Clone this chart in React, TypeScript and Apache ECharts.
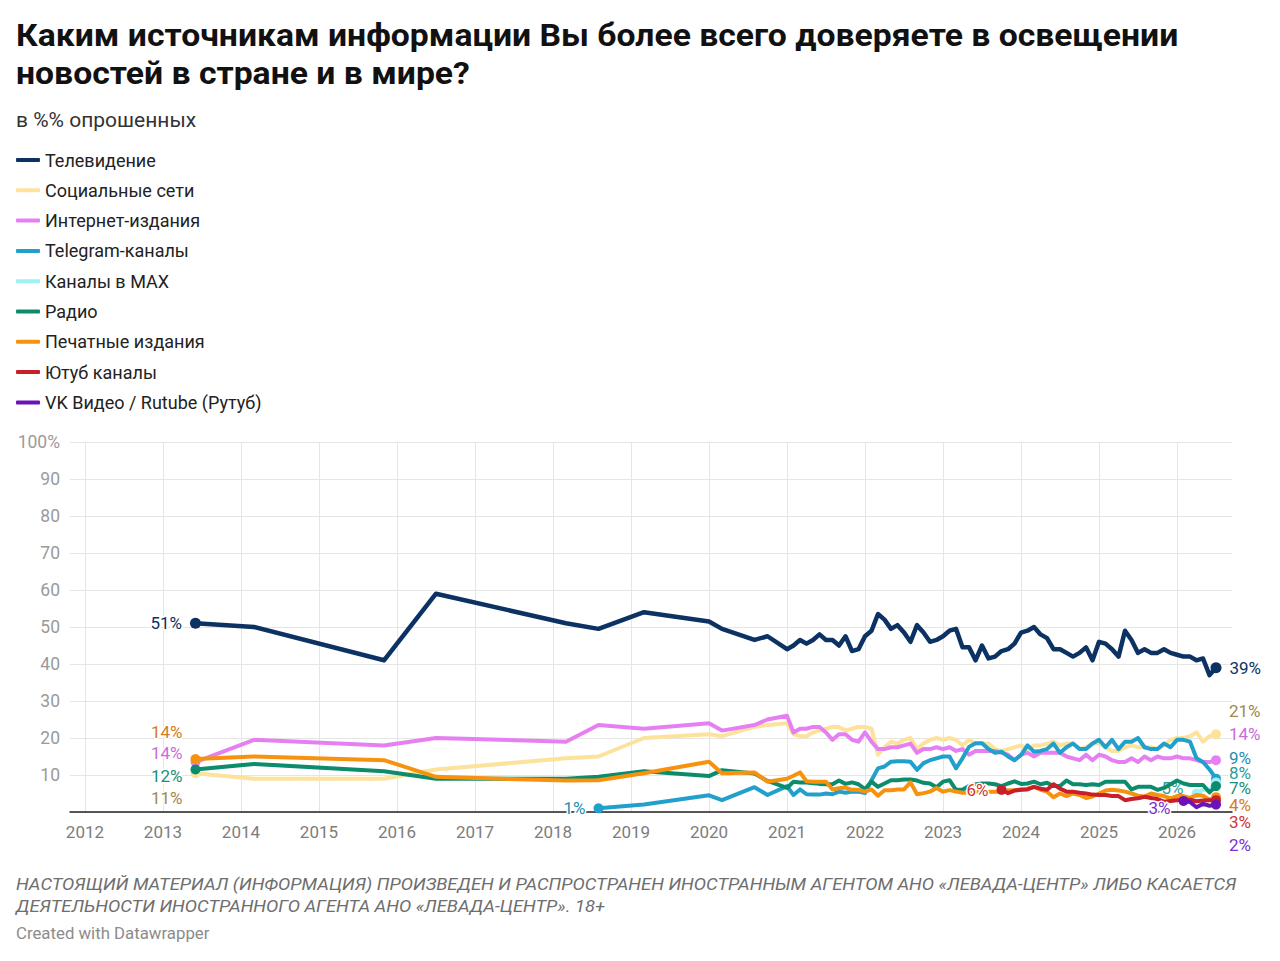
import React, { useEffect, useRef } from "react";
import * as echarts from "echarts";

const FONT = "Roboto, 'Noto Sans', sans-serif";
const _ = null;

// survey dates (year-month)
const surveyDates = [
  "2013-06", "2014-03", "2015-11", "2016-07", "2018-03", "2018-08", "2019-03", "2020-01", "2020-03", "2020-08", "2020-10",
  "2021-01", "2021-02", "2021-03", "2021-04", "2021-05", "2021-06", "2021-07", "2021-08", "2021-09", "2021-10", "2021-11", "2021-12",
  "2022-01", "2022-02", "2022-03", "2022-04", "2022-05", "2022-06", "2022-07", "2022-08", "2022-09", "2022-10", "2022-11", "2022-12",
  "2023-01", "2023-02", "2023-03", "2023-04", "2023-05", "2023-06", "2023-07", "2023-08", "2023-09", "2023-10", "2023-11", "2023-12",
  "2024-01", "2024-02", "2024-03", "2024-04", "2024-05", "2024-06", "2024-07", "2024-08", "2024-09", "2024-10", "2024-11", "2024-12",
  "2025-01", "2025-02", "2025-03", "2025-04", "2025-05", "2025-06", "2025-07", "2025-08", "2025-09", "2025-10", "2025-11", "2025-12",
  "2026-01", "2026-02", "2026-03", "2026-04", "2026-05", "2026-06", "2026-07",
];

const yearTicks = [2012, 2013, 2014, 2015, 2016, 2017, 2018, 2019, 2020, 2021, 2022, 2023, 2024, 2025, 2026];

const television = [
  51, 50, 41, 59, 51, 49.5, 54, 51.5, 49.5, 46.5, 47.5,
  44, 45, 46.5, 45.5, 46.5, 48, 46.5, 46.5, 45, 47.5, 43.5, 44,
  47.5, 49, 53.5, 52, 49.5, 50.5, 48.5, 46, 50.5, 48.5, 46, 46.5,
  47.5, 49, 49.5, 44.5, 44.5, 41, 45, 41.5, 42, 43.5, 44, 45.5,
  48.5, 49, 50, 48, 47, 44, 44, 43, 42, 43, 44.5, 41,
  46, 45.5, 44, 42, 49, 46.5, 43, 44, 43, 43, 44, 43,
  42.5, 42, 42, 41, 41.5, 37, 39,
];
const socialNetworks = [
  10.5, 9, 9, 11.5, 14.5, 15, 20, 21, 20.5, 23, 23.5,
  24, 21, 20.5, 20.5, 21.5, 22, 22.5, 23, 23, 22, 22.5, 23,
  23, 22.5, 15.5, 17.5, 19, 18.5, 19.5, 20, 17, 18.5, 19.5, 20,
  19.5, 20, 19.5, 18, 19.5, 18.5, 18.5, 18.5, 17, 16.5, 17, 17.5,
  18, 17, 18, 18, 18.5, 19, 18, 18.5, 18.5, 17, 17.5, 18.5,
  18.5, 17.5, 16.5, 16.5, 17.5, 18, 17.5, 17.5, 17.5, 17, 18, 19.5,
  20, 20, 20.5, 21.5, 19, 20.5, 21,
];
const internetMedia = [
  13.5, 19.5, 18, 20, 19, 23.5, 22.5, 24, 22, 23.5, 25,
  26, 21.5, 22.5, 22.5, 23, 23, 21.5, 19.5, 21, 21, 19.5, 19,
  21.5, 19, 17, 17, 17.5, 17.5, 18, 18.5, 16, 17, 17, 17.5,
  17, 17.5, 16.5, 17, 15.5, 16.5, 16.5, 16.5, 16.5, 16, 15.5, 14,
  15.5, 16, 15, 16, 16, 16, 16, 15, 14.5, 14, 15.5, 14,
  15.5, 15, 14, 13.5, 13.5, 14.5, 13.5, 15, 14, 15, 14.5, 14.5,
  15, 14.5, 14.5, 14, 13.5, 13.5, 14,
];
const telegram = [
  _, _, _, _, _, 1, 2, 4.5, 3.2, 6.7, 4.6,
  7, 4.6, 6.1, 4.8, 4.7, 4.7, 5, 4.8, 5.5, 5.2, 5.5, 5.5,
  5.1, 8.6, 11.8, 12.3, 13.6, 13.7, 13.7, 13.6, 11.4, 13.2, 14, 14.5,
  15, 15, 11.8, 14.5, 17.6, 18.6, 18.6, 17, 16, 16.3, 15, 14,
  15.4, 18, 16.3, 16.5, 17, 18.5, 16, 17.5, 18.5, 17, 17, 18.5,
  19.5, 17.5, 19.5, 17, 19, 19, 20, 17.5, 17, 17, 18.5, 17.5,
  19.5, 19.5, 19, 14.5, 13.5, 11.5, 9,
];
const maxChannels = [
  _, _, _, _, _, _, _, _, _, _, _,
  _, _, _, _, _, _, _, _, _, _, _, _,
  _, _, _, _, _, _, _, _, _, _, _, _,
  _, _, _, _, _, _, _, _, _, _, _, _,
  _, _, _, _, _, _, _, _, _, _, _, _,
  _, _, _, _, _, _, _, _, _, _, _, _,
  _, _, _, 5, 6, 6, 8,
];
const radio = [
  11.5, 13, 11, 9, 9, 9.5, 11, 9.7, 11.3, 10.4, 8.4,
  6.5, 8.2, 8, 8, 7.8, 7.6, 7.5, 7.5, 8.5, 7.6, 8, 7.5,
  6.2, 8.2, 6.8, 7.7, 8.6, 8.6, 8.8, 8.8, 8.5, 7.9, 7.7, 6.7,
  8.2, 8.6, 6, 6, 7, 7.5, 7.7, 7.7, 7.5, 7, 7.7, 8.3,
  7.6, 7.7, 8.2, 7.5, 7.9, 7, 7, 8.5, 7.5, 7.5, 7.3, 7.5,
  7.3, 8.2, 8.2, 8.2, 8.2, 6.1, 6.8, 6.8, 6.8, 6, 6.5, 7.5,
  8.5, 7.7, 7.3, 7.3, 7.3, 5.3, 7,
];
const printMedia = [
  14.3, 15, 14, 9.5, 8.5, 8.6, 10.5, 13.6, 10.5, 10.7, 8.2,
  9, 9.8, 10.7, 8.3, 8.2, 8.2, 8.2, 6.1, 6.4, 6.6, 6, 6,
  5.5, 6.1, 4.4, 5.9, 5.9, 6.1, 6.1, 8, 4.8, 5.1, 5.5, 6.5,
  5.5, 5.9, 5.5, 5.2, 5.3, 5.5, 5.5, 5.5, 5.5, 5.5, 5.9, 5.9,
  6.1, 6.3, 6.8, 6, 5.5, 4, 5, 4.3, 5, 4.6, 3.8, 4.2,
  5, 5.8, 6, 5.8, 5.5, 5, 4.4, 4.2, 5, 4.6, 4.3, 3.7,
  4.3, 4.3, 3.8, 4.6, 4.4, 3.3, 4,
];
const youtube = [
  _, _, _, _, _, _, _, _, _, _, _,
  _, _, _, _, _, _, _, _, _, _, _, _,
  _, _, _, _, _, _, _, _, _, _, _, _,
  _, _, _, _, _, _, _, _, _, 6, 5.1, 5.8,
  6, 6.1, 6.8, 6.3, 6, 7.5, 6.3, 5.5, 5.5, 5.2, 5, 4.7,
  4.6, 4.6, 4.3, 4.3, 3.2, 3.5, 3.7, 4.1, 3.8, 3.5, 2.8, 3,
  3.2, 3.4, 3.3, 2.9, 3.1, 3.2, 3.2,
];
const vkRutube = [
  _, _, _, _, _, _, _, _, _, _, _,
  _, _, _, _, _, _, _, _, _, _, _, _,
  _, _, _, _, _, _, _, _, _, _, _, _,
  _, _, _, _, _, _, _, _, _, _, _, _,
  _, _, _, _, _, _, _, _, _, _, _, _,
  _, _, _, _, _, _, _, _, _, _, _, _,
  _, 3, 2.7, 1.3, 2.2, 1.7, 2,
];

const seriesNames = [
  "Телевидение",
  "Социальные сети",
  "Интернет-издания",
  "Telegram-каналы",
  "Каналы в MAX",
  "Радио",
  "Печатные издания",
  "Ютуб каналы",
  "VK Видео / Rutube (Рутуб)",
];
const seriesValues = [television, socialNetworks, internetMedia, telegram, maxChannels, radio, printMedia, youtube, vkRutube];

// styles: line colour, label colour, line width, vertical label shifts (start, end)
const seriesStyles = [
  { line: "#0b3263", label: "#0b3263", width: 4.5, startDy: 0, endDy: 0 },
  { line: "#fde29c", label: "#a08a4e", width: 4, startDy: 25, endDy: -23 },
  { line: "#e680f2", label: "#cb6bdc", width: 4, startDy: -9, endDy: -26 },
  { line: "#22a0cc", label: "#1f8db5", width: 4, startDy: 0, endDy: -21 },
  { line: "#9ef1f5", label: "#2a9d96", width: 4, startDy: -6, endDy: -9 },
  { line: "#0c8c6c", label: "#178f78", width: 4, startDy: 6.5, endDy: 2 },
  { line: "#f7920f", label: "#d67b22", width: 4, startDy: -27, endDy: 8 },
  { line: "#c8202a", label: "#cf3538", width: 4, startDy: 0, endDy: 22 },
  { line: "#6b12b8", label: "#7e2fd2", width: 4, startDy: 7, endDy: 40 },
];

function toYear(d: string): number {
  const [y, m] = d.split("-").map(Number);
  return y + (m - 1) / 12;
}

function buildSeries(idx: number) {
  const xs = surveyDates.map(toYear);
  const vals = seriesValues[idx];
  const st = seriesStyles[idx];
  const pts: [number, number][] = [];
  vals.forEach((v, i) => {
    if (v !== null && v !== undefined) pts.push([xs[i], v as number]);
  });
  const mkLabel = (v: number, pos: string, dy: number) => ({
    show: true,
    position: pos,
    distance: 8,
    formatter: Math.round(v) + "%",
    color: st.label,
    fontSize: 17,
    fontFamily: FONT,
    offset: [0, dy],
    textBorderColor: "#fff",
    textBorderWidth: 3,
  });
  const data = pts.map((p, i) => {
    const first = i === 0;
    const last = i === pts.length - 1;
    if (!first && !last) return { value: p };
    return {
      value: p,
      symbol: "circle",
      symbolSize: idx === 0 ? 11 : 10,
      itemStyle: { color: st.line },
      label: mkLabel(p[1], first ? "left" : "right", first ? st.startDy : st.endDy),
    };
  });
  return {
    type: "line",
    name: seriesNames[idx],
    data,
    color: st.line,
    symbol: "none",
    showSymbol: true,
    showAllSymbol: true,
    connectNulls: true,
    lineStyle: { width: st.width, color: st.line, cap: "round", join: "round" },
    itemStyle: { color: st.line },
    emphasis: { disabled: true },
    silent: true,
    z: 2 + idx * 0.01,
  };
}

export default function App() {
  const ref = useRef<HTMLDivElement>(null);
  useEffect(() => {
    if (!ref.current) return;
    const chart = echarts.init(ref.current, undefined, { renderer: "svg" });
    const option: any = {
      animation: false,
      backgroundColor: "#ffffff",
      textStyle: { fontFamily: FONT },
      legend: {
        orient: "vertical",
        left: 16,
        top: 150,
        padding: 0,
        itemWidth: 24,
        itemHeight: 4,
        itemGap: 10.3,
        icon: "roundRect",
        selectedMode: false,
        data: seriesNames,
        textStyle: { fontSize: 18, color: "#222222", fontFamily: FONT, lineHeight: 20 },
      },
      grid: { left: 70, right: 48, top: 442, bottom: 149, containLabel: false },
      xAxis: {
        type: "value",
        min: 2011.808,
        max: 2026.705,
        axisLine: { show: true, onZero: false, lineStyle: { color: "#222222", width: 1.5 } },
        axisTick: { show: false, customValues: yearTicks },
        axisLabel: {
          customValues: yearTicks,
          formatter: (v: number) => String(Math.round(v)),
          color: "#7d7d7d",
          fontSize: 17,
          fontFamily: FONT,
          margin: 11,
        },
        splitLine: { show: true, lineStyle: { color: "#e5e5e5", width: 1 } },
      },
      yAxis: {
        type: "value",
        min: 0,
        max: 100,
        interval: 10,
        axisLine: { show: false },
        axisTick: { show: false },
        axisLabel: {
          formatter: (v: number) => (v === 100 ? "100%" : v === 0 ? "" : String(v)),
          color: "#9a9a9a",
          fontSize: 17.5,
          fontFamily: FONT,
          margin: 10,
        },
        splitLine: { show: true, lineStyle: { color: "#e5e5e5", width: 1 } },
      },
      graphic: [
        {
          type: "text",
          x: 16,
          y: 35,
          scaleX: 1.088,
          style: {
            text: "Каким источникам информации Вы более всего доверяете в освещении",
            fontSize: 31,
            fontWeight: "bold",
            fontFamily: FONT,
            fill: "#111111",
            textVerticalAlign: "middle",
            verticalAlign: "middle",
          },
        },
        {
          type: "text",
          x: 16,
          y: 73,
          scaleX: 1.088,
          style: {
            text: "новостей в стране и в мире?",
            fontSize: 31,
            fontWeight: "bold",
            fontFamily: FONT,
            fill: "#111111",
            textVerticalAlign: "middle",
            verticalAlign: "middle",
          },
        },
        {
          type: "text",
          x: 16,
          y: 120,
          style: {
            text: "в %% опрошенных",
            fontSize: 21,
            fontFamily: FONT,
            fill: "#333333",
            textVerticalAlign: "middle",
            verticalAlign: "middle",
          },
        },
        {
          type: "text",
          x: 16,
          y: 884,
          scaleX: 1.114,
          style: {
            text: "НАСТОЯЩИЙ МАТЕРИАЛ (ИНФОРМАЦИЯ) ПРОИЗВЕДЕН И РАСПРОСТРАНЕН ИНОСТРАННЫМ АГЕНТОМ АНО «ЛЕВАДА-ЦЕНТР» ЛИБО КАСАЕТСЯ",
            fontSize: 16.5,
            fontStyle: "italic",
            fontFamily: FONT,
            fill: "#6e6e6e",
            textVerticalAlign: "middle",
            verticalAlign: "middle",
          },
        },
        {
          type: "text",
          x: 16,
          y: 906,
          scaleX: 1.114,
          style: {
            text: "ДЕЯТЕЛЬНОСТИ ИНОСТРАННОГО АГЕНТА АНО «ЛЕВАДА-ЦЕНТР». 18+",
            fontSize: 16.5,
            fontStyle: "italic",
            fontFamily: FONT,
            fill: "#6e6e6e",
            textVerticalAlign: "middle",
            verticalAlign: "middle",
          },
        },
        {
          type: "text",
          x: 16,
          y: 934,
          scaleX: 1.05,
          style: {
            text: "Created with Datawrapper",
            fontSize: 16,
            fontFamily: FONT,
            fill: "#8c8c8c",
            textVerticalAlign: "middle",
            verticalAlign: "middle",
          },
        },
      ],
      series: seriesNames.map((_n, i) => buildSeries(i)),
    };
    chart.setOption(option);
    return () => chart.dispose();
  }, []);
  return (
    <div
      ref={ref}
      style={{ position: "fixed", left: 0, top: 0, width: 1280, height: 961, background: "#fff" }}
    />
  );
}
